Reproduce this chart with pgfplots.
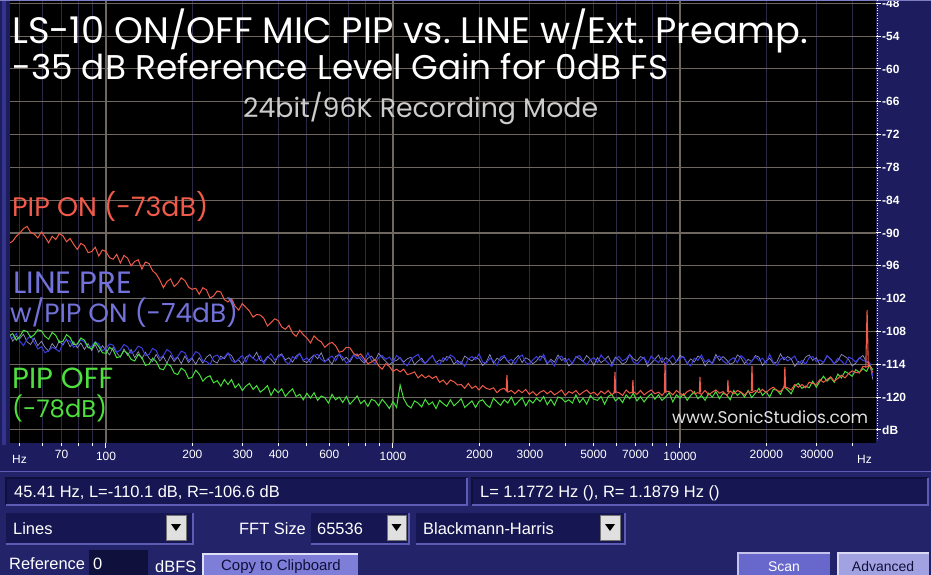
\documentclass[border=0pt]{standalone}
\usepackage{pgfplots}
\pgfplotsset{compat=1.18}
\usepackage{pgfplotstable}
\usepackage{fontspec}
\setmainfont{Liberation Sans}
\newfontfamily\comic{Poppins}
\definecolor{navy}{HTML}{1C1C5E}
\definecolor{panelbg}{HTML}{23236A}
\definecolor{boxbg}{HTML}{161652}
\definecolor{boxedge}{HTML}{5C5CB4}
\definecolor{boxdark}{HTML}{10103C}
\definecolor{stripe}{HTML}{34348A}
\definecolor{gridtan}{HTML}{6E675F}
\definecolor{gridpurple}{HTML}{2C2846}
\definecolor{tickgrey}{HTML}{B0A898}
\definecolor{redtr}{HTML}{F05A48}
\definecolor{bluetr}{HTML}{3C3CE0}
\definecolor{greentr}{HTML}{46E03A}
\definecolor{greytr}{HTML}{A8A8E0}
\definecolor{redlab}{HTML}{F05A4A}
\definecolor{bluelab}{HTML}{7272DA}
\definecolor{greenlab}{HTML}{4EE03E}
\definecolor{btncopy}{HTML}{7E7ED8}
\definecolor{btnscan}{HTML}{6868CC}
\definecolor{btnadv}{HTML}{A2A2E2}

\pgfplotstableread{
f R B G W
46.3 -91.8 -109.0 -108.7 -108.6
47.32 -91.5 -109.2 -108.4 -109.8
48.70 -90.6 -108.4 -109.6 -108.9
50.12 -90.0 -109.8 -108.9 -109.3
51.58 -89.2 -110.6 -107.8 -108.5
53.09 -88.8 -109.4 -108.0 -109.9
54.64 -89.9 -108.8 -109.1 -110.4
56.23 -90.2 -110.0 -108.6 -109.2
57.88 -90.9 -111.2 -107.7 -110.6
59.57 -89.8 -110.8 -107.9 -109.8
61.31 -90.7 -111.9 -108.9 -110.9
63.10 -91.8 -111.5 -109.4 -111.6
64.94 -90.6 -110.9 -108.2 -110.2
66.83 -91.2 -111.2 -108.7 -111.1
68.79 -90.1 -111.7 -110.0 -109.7
70.79 -90.5 -110.2 -109.8 -110.5
72.86 -91.6 -109.6 -108.6 -109.4
74.99 -91.0 -109.8 -109.1 -110.8
77.18 -92.1 -110.9 -110.4 -109.9
79.43 -93.0 -110.4 -110.3 -111.0
81.75 -91.9 -109.5 -109.2 -110.1
84.14 -92.3 -109.9 -109.6 -111.3
86.60 -93.6 -111.0 -110.9 -110.2
89.13 -93.4 -110.7 -111.2 -111.5
91.73 -92.6 -109.9 -110.0 -110.4
94.41 -94.2 -110.3 -110.8 -111.8
97.16 -93.1 -111.5 -111.9 -110.6
100 -93.4 -111.2 -112.0 -111.4
102.9 -94.5 -110.3 -110.9 -112.3
105.9 -94.8 -110.5 -111.4 -110.9
109.0 -93.9 -111.8 -112.8 -111.9
112.2 -95.5 -111.4 -112.6 -112.7
115.5 -94.1 -110.4 -111.5 -111.2
118.9 -94.6 -110.8 -112.0 -112.4
122.3 -96.0 -112.0 -113.1 -111.3
125.9 -95.2 -111.6 -113.4 -112.8
129.5 -94.9 -110.7 -112.2 -111.7
133.4 -96.6 -111.0 -112.8 -113.0
137.2 -95.3 -112.4 -114.2 -111.8
141.3 -95.6 -112.2 -114.0 -112.9
145.4 -96.9 -111.1 -112.9 -113.5
149.6 -97.5 -111.5 -113.5 -112.2
154.0 -98.6 -112.9 -114.8 -113.4
158.5 -100.0 -112.4 -115.0 -112.6
163.1 -98.9 -111.3 -113.9 -113.8
167.9 -98.4 -111.8 -114.3 -112.4
172.8 -99.8 -113.1 -115.6 -113.5
177.8 -99.2 -112.6 -115.9 -112.7
183.0 -98.2 -111.6 -114.7 -113.9
188.4 -98.7 -111.9 -115.2 -112.5
193.9 -99.9 -113.3 -116.6 -113.7
199.5 -100.3 -112.8 -116.4 -112.9
205.4 -100.1 -111.7 -115.1 -114.0
211.3 -101.2 -112.0 -115.8 -112.8
217.5 -100.0 -113.4 -117.1 -113.8
223.9 -100.4 -113.5 -116.4 -112.7
230.4 -101.9 -114.1 -116.1 -112.2
237.1 -101.5 -112.6 -117.4 -113.4
244.1 -100.6 -112.3 -117.0 -113.8
251.2 -100.8 -113.1 -118.0 -112.5
258.5 -102.2 -112.7 -116.8 -113.0
266.1 -102.6 -111.9 -117.7 -112.0
273.8 -102.0 -113.3 -116.8 -112.4
281.8 -103.4 -113.7 -118.3 -113.6
290.1 -104.1 -113.0 -117.6 -113.2
298.5 -102.9 -112.4 -118.8 -114.1
307.3 -103.6 -113.6 -118.0 -112.7
316.2 -104.3 -112.2 -117.5 -112.3
325.5 -105.4 -112.9 -118.6 -112.9
335.0 -104.9 -113.4 -117.9 -111.8
344.7 -105.0 -112.5 -119.1 -113.3
354.8 -105.6 -113.9 -118.6 -113.5
365.2 -107.0 -112.8 -117.9 -112.6
375.8 -106.4 -112.1 -119.7 -113.1
386.8 -105.7 -113.2 -118.5 -113.9
398.1 -106.0 -112.7 -119.2 -112.4
409.7 -107.2 -112.3 -118.5 -112.1
421.7 -107.6 -113.5 -119.9 -113.2
434.0 -106.9 -114.0 -119.1 -112.8
446.7 -108.3 -112.6 -118.5 -113.6
459.8 -108.9 -113.0 -119.9 -112.5
473.2 -107.8 -112.0 -119.5 -112.0
487.0 -108.6 -113.3 -120.5 -113.4
501.2 -109.2 -112.8 -119.3 -113.7
515.9 -110.1 -113.7 -120.2 -112.9
530.9 -108.8 -112.4 -119.2 -112.3
546.5 -109.5 -112.2 -120.6 -113.0
562.3 -109.9 -113.1 -119.8 -111.9
578.8 -110.9 -113.6 -120.1 -113.5
595.7 -110.3 -112.9 -121.1 -113.1
613.1 -110.0 -112.5 -119.5 -114.0
631.0 -110.6 -113.4 -120.5 -112.6
649.4 -111.8 -112.1 -120.0 -112.2
668.3 -111.6 -112.7 -121.0 -113.3
687.9 -110.9 -113.8 -119.9 -112.7
707.9 -111.0 -113.2 -121.3 -113.6
728.7 -112.0 -112.3 -120.6 -112.4
749.9 -112.5 -113.0 -119.8 -112.1
771.9 -112.1 -112.6 -121.2 -113.2
794.3 -113.0 -113.5 -120.6 -113.8
817.6 -113.9 -111.9 -121.7 -112.9
841.4 -113.6 -113.3 -120.4 -112.5
866.0 -113.1 -113.9 -120.7 -113.4
891.3 -114.3 -112.8 -121.6 -112.0
917.3 -114.9 -112.4 -120.4 -112.8
944.1 -113.9 -113.1 -121.2 -113.5
971.6 -114.4 -112.7 -122.1 -114.1
1000 -115.3 -113.6 -120.8 -113.5
1029 -114.9 -112.4 -121.9 -113.3
1059 -115.4 -112.9 -117.8 -112.8
1090 -114.9 -113.8 -120.3 -113.6
1122 -115.9 -114.3 -121.5 -113.0
1155 -115.7 -113.1 -122.0 -112.7
1189 -115.4 -112.6 -120.7 -114.1
1223 -116.5 -112.2 -121.1 -113.4
1259 -115.9 -113.4 -121.8 -112.9
1295 -116.5 -113.9 -120.4 -113.9
1334 -116.1 -113.0 -121.4 -113.1
1372 -116.6 -112.5 -120.9 -112.4
1413 -116.2 -113.7 -122.1 -113.7
1454 -117.3 -114.1 -120.6 -113.2
1496 -116.9 -112.8 -121.2 -113.5
1540 -117.7 -113.3 -121.7 -112.6
1585 -116.9 -112.3 -120.5 -112.8
1631 -117.2 -112.7 -121.6 -114.0
1679 -117.8 -113.9 -121.0 -113.3
1728 -117.7 -113.5 -120.3 -113.9
1778 -118.4 -114.4 -121.9 -112.5
1830 -117.5 -113.0 -121.3 -113.0
1884 -118.4 -112.6 -120.7 -113.4
1939 -118.0 -113.2 -121.9 -112.7
1995 -118.7 -112.1 -120.8 -113.1
2054 -117.9 -113.6 -120.5 -114.2
2113 -118.4 -113.8 -121.4 -113.6
2175 -118.6 -112.9 -121.9 -112.2
2239 -118.3 -113.4 -120.2 -113.8
2304 -119.2 -114.2 -120.9 -112.9
2371 -118.6 -112.7 -121.5 -113.3
2441 -118.4 -112.4 -120.5 -112.6
2512 -119.1 -113.5 -121.1 -113.5
2585 -118.8 -113.1 -120.0 -114.1
2661 -119.4 -113.9 -121.5 -113.0
2738 -118.7 -112.8 -120.8 -112.4
2818 -119.2 -112.3 -120.1 -113.7
2901 -118.6 -113.7 -121.6 -112.8
2985 -119.5 -114.0 -120.5 -113.2
3073 -119.0 -113.2 -121.1 -113.9
3162 -119.7 -112.6 -120.2 -113.4
3255 -119.1 -113.3 -120.8 -112.5
3350 -118.8 -112.2 -119.9 -112.7
3447 -119.4 -113.8 -121.4 -114.0
3548 -118.9 -113.4 -120.4 -113.1
3652 -119.6 -114.3 -121.5 -113.6
3758 -119.2 -112.9 -120.0 -112.3
3868 -118.7 -112.5 -120.2 -113.3
3981 -119.7 -113.6 -120.9 -112.9
4097 -119.0 -113.0 -120.5 -114.3
4217 -119.3 -113.9 -121.1 -113.8
4340 -118.8 -112.7 -119.6 -112.6
4467 -119.6 -112.4 -121.0 -113.0
4597 -119.1 -113.5 -120.2 -113.5
4732 -118.7 -114.1 -121.3 -112.4
4870 -119.4 -113.2 -119.7 -113.1
5012 -119.1 -112.8 -120.4 -114.2
5158 -119.7 -113.7 -120.6 -112.8
5309 -118.9 -112.3 -119.9 -113.7
5464 -119.4 -113.1 -121.3 -113.2
5623 -118.8 -113.8 -119.9 -112.5
5788 -119.6 -114.4 -119.5 -113.9
5957 -119.0 -112.9 -120.7 -112.7
6131 -119.2 -112.6 -120.1 -113.3
6310 -119.7 -113.4 -121.0 -114.0
6494 -118.7 -113.0 -119.6 -113.6
6683 -119.3 -112.2 -120.3 -112.2
6879 -119.0 -113.6 -119.3 -113.0
7079 -119.5 -114.0 -120.7 -113.4
7286 -118.8 -113.3 -119.9 -112.6
7499 -119.6 -112.7 -120.9 -112.9
7718 -119.1 -113.9 -120.0 -114.4
7943 -118.7 -112.5 -119.4 -113.8
8176 -119.4 -113.2 -120.4 -113.1
8414 -119.1 -113.7 -119.6 -112.3
8660 -119.7 -112.8 -120.6 -113.7
8913 -118.9 -114.2 -120.0 -112.8
9173 -119.0 -113.1 -119.2 -113.2
9441 -119.6 -112.4 -120.9 -114.1
9716 -118.8 -113.5 -119.6 -113.5
10000 -119.3 -113.0 -120.2 -112.4
10292 -119.7 -112.6 -119.4 -112.7
10593 -119.0 -113.8 -120.6 -113.9
10902 -118.7 -114.3 -119.7 -113.0
11220 -119.4 -112.9 -119.0 -113.6
11548 -119.2 -113.3 -120.3 -112.5
11885 -119.5 -112.3 -119.7 -112.9
12232 -118.8 -113.6 -120.6 -114.3
12589 -119.6 -113.1 -119.3 -113.4
12957 -119.1 -114.0 -120.0 -113.8
13335 -118.7 -112.7 -119.0 -112.2
13725 -119.3 -112.5 -120.3 -113.3
14125 -119.0 -113.4 -119.3 -112.6
14538 -119.7 -113.9 -119.6 -113.2
14962 -118.9 -113.2 -120.5 -114.0
15399 -119.4 -112.8 -118.8 -113.7
15849 -118.8 -113.7 -119.7 -112.3
16312 -119.1 -112.4 -119.1 -112.8
16788 -119.6 -113.0 -120.0 -113.9
17278 -119.0 -114.1 -118.8 -113.1
17783 -119.2 -113.5 -120.1 -113.5
18302 -118.8 -112.6 -119.3 -112.4
18836 -119.2 -113.3 -118.4 -112.7
19387 -118.6 -112.9 -119.7 -114.2
19953 -119.2 -113.8 -119.0 -113.4
20535 -118.6 -112.2 -120.0 -112.9
21135 -118.2 -113.6 -118.6 -113.8
21752 -118.8 -114.2 -118.7 -113.6
22387 -119.0 -113.1 -119.5 -112.1
23041 -118.2 -112.7 -118.1 -113.2
23714 -118.3 -113.4 -118.7 -112.6
24406 -118.7 -113.0 -119.4 -113.0
25119 -117.7 -112.5 -118.0 -114.4
25852 -118.2 -113.9 -117.5 -113.5
26607 -117.7 -113.3 -118.4 -113.9
27384 -118.3 -114.0 -118.0 -112.7
28184 -117.3 -112.8 -118.3 -112.3
29007 -117.5 -112.6 -117.1 -113.3
29854 -117.7 -113.5 -118.2 -112.8
30726 -116.8 -113.2 -117.1 -114.1
31623 -117.3 -113.7 -116.2 -113.7
32546 -116.8 -112.4 -117.1 -112.5
33497 -116.3 -113.1 -116.4 -113.0
34475 -117.1 -113.9 -117.3 -113.9
35481 -116.6 -112.9 -115.8 -113.4
36517 -116.0 -113.4 -116.5 -112.2
37584 -116.5 -114.1 -115.3 -112.6
38681 -115.7 -112.7 -115.7 -113.1
39811 -115.2 -113.0 -116.2 -114.3
40973 -115.5 -113.6 -115.0 -113.8
42170 -115.6 -112.8 -115.5 -112.9
43401 -114.4 -113.3 -114.8 -112.4
44668 -114.5 -113.5 -115.3 -113.6
45800 -114.3 -113.6 -114.2 -113.8
47000 -115.5 -116.2 -115.0 -116.8
}\spectrum

\pgfplotstableread{
f S
2480 -118.9
2495 -116.0
2510 -118.9
2510 nan
5900 -119.3
5935 -115.4
5970 -119.3
5970 nan
6820 -119.3
6855 -116.9
6890 -119.3
6890 nan
8820 -119.2
8870 -113.8
8920 -119.2
8920 nan
11680 -119.2
11740 -116.3
11800 -119.2
11800 nan
14620 -119.1
14690 -116.9
14760 -119.1
14760 nan
17720 -118.9
17820 -114.3
17920 -118.9
17920 nan
23070 -118.4
23200 -114.5
23330 -118.4
23330 nan
44400 -114.6
44870 -104.1
45300 -114.4
}\redspikes

\newcommand\fitw[2]{\resizebox{#1}{!}{\comic #2}}

\begin{document}
\begin{tikzpicture}
\path[use as bounding box] (0bp,0bp) rectangle (931bp,-575bp);
\clip (0bp,0bp) rectangle (931bp,-575bp);
% backgrounds
\fill[panelbg] (0bp,0bp) rectangle (931bp,-575bp);
\fill[navy] (0bp,0bp) rectangle (931bp,-471bp);
\fill[stripe] (2bp,0bp) rectangle (6bp,-445bp);
\draw[boxedge, line width=1bp] (0bp,-471.5bp) -- (931bp,-471.5bp);

\begin{axis}[
  at={(10bp,-443bp)}, anchor=south west,
  scale only axis, width=866bp, height=443bp,
  xmode=log, xmin=46.3, xmax=48200,
  ymin=-128.4, ymax=-47.4,
  axis background/.style={fill=black},
  axis line style={draw=none},
  unbounded coords=jump,
  xtick={100,1000,10000},
  xticklabels={100,1000,10000},
  minor xtick={50,60,70,80,90,200,300,400,500,600,700,800,900,2000,3000,4000,5000,6000,7000,8000,9000,20000,30000,40000},
  extra x ticks={70,200,300,400,600,2000,3000,5000,7000,20000,30000},
  extra x tick labels={70,200,300,400,600,2000,3000,5000,7000,20000,30000},
  extra x tick style={grid=none, major tick length=3bp, tick label style={text=tickgrey}},
  xmajorgrids, xminorgrids, ymajorgrids,
  major grid style={draw=gridtan, line width=1.1bp},
  minor grid style={draw=gridpurple, line width=1.1bp},
  xtick pos=bottom, ytick pos=right, yticklabel pos=right,
  tick align=outside,
  major tick length=5bp, minor tick length=3bp,
  tick style={draw=white, line width=1bp},
  ytick={-126,-120,...,-48},
  yticklabels={dB,-120,-114,-108,-102,-96,-90,-84,-78,-72,-66,-60,-54,-48},
  tick label style={font=\fontsize{12}{12}\selectfont, inner sep=0pt},
  xticklabel style={text=white, yshift=-4bp},
  yticklabel style={text=white, xshift=1bp, font=\fontsize{12}{12}\selectfont\bfseries},
]
\addplot[greytr, line width=0.7bp, opacity=0.85] table[x=f, y=W] {\spectrum};
\addplot[bluetr, line width=1bp] table[x=f, y=B] {\spectrum};
\addplot[greentr, line width=1bp] table[x=f, y=G] {\spectrum};
\addplot[redtr, line width=1bp] table[x=f, y=R] {\spectrum};
\addplot[redtr, line width=1.1bp] table[x=f, y=S] {\redspikes};
\end{axis}

% top border and right dotted line
\draw[boxedge!80!white, line width=1.2bp] (0bp,-0.6bp) -- (931bp,-0.6bp);
\draw[white, line width=1bp, dash pattern=on 1bp off 1.5bp] (877bp,0bp) -- (877bp,-440bp);

% Hz labels
\node[anchor=west, inner sep=0pt, text=white, font=\fontsize{12}{12}\selectfont] at (12bp,-459bp) {Hz};
\node[anchor=west, inner sep=0pt, text=white, font=\fontsize{12}{12}\selectfont] at (857bp,-459bp) {Hz};

% titles
\node[anchor=base west, inner sep=0pt, text=white] at (12bp,-43bp) {\fitw{796bp}{LS-10 ON/OFF MIC PIP vs.\ LINE w/Ext.\ Preamp.}};
\node[anchor=base west, inner sep=0pt, text=white] at (12bp,-79bp) {\fitw{656bp}{-35 dB Reference Level Gain for 0dB FS}};
\node[anchor=base west, inner sep=0pt, text=black!20] at (243bp,-117bp) {\fitw{355bp}{24bit/96K Recording Mode}};

% curve labels
\node[anchor=base west, inner sep=0pt, text=redlab] at (12bp,-216bp) {\fitw{196bp}{PIP ON (-73dB)}};
\node[anchor=base west, inner sep=0pt, text=bluelab] at (13bp,-293bp) {\fitw{119bp}{LINE PRE}};
\node[anchor=base west, inner sep=0pt, text=bluelab] at (10bp,-322bp) {\fitw{228bp}{w/PIP ON (-74dB)}};
\node[anchor=base west, inner sep=0pt, text=greenlab] at (12bp,-388bp) {\fitw{101bp}{PIP OFF}};
\node[anchor=base west, inner sep=0pt, text=greenlab] at (12bp,-417bp) {\fitw{95bp}{(-78dB)}};
\node[anchor=base west, inner sep=0pt, text=black!12] at (672bp,-423bp) {\fitw{196bp}{www.SonicStudios.com}};

% bottom UI
\tikzset{uitext/.style={inner sep=0pt, anchor=west, text=white, font=\fontsize{16.5}{16.5}\selectfont}}
\fill[boxbg] (6bp,-478bp) rectangle (467bp,-505bp);
\draw[boxdark, line width=1.2bp] (6bp,-505bp) -- (6bp,-478bp) -- (467bp,-478bp);
\draw[boxedge, line width=1.2bp] (6bp,-505bp) -- (467bp,-505bp) -- (467bp,-478bp);
\node[uitext] at (14bp,-493bp) {45.41 Hz, L=-110.1 dB, R=-106.6 dB};
\fill[boxbg] (472bp,-478bp) rectangle (928bp,-505bp);
\draw[boxdark, line width=1.2bp] (472bp,-505bp) -- (472bp,-478bp) -- (928bp,-478bp);
\draw[boxedge, line width=1.2bp] (472bp,-505bp) -- (928bp,-505bp) -- (928bp,-478bp);
\node[uitext] at (480bp,-493bp) {L= 1.1772 Hz (), R= 1.1879 Hz ()};

\fill[boxbg] (6bp,-513bp) rectangle (193bp,-544bp);
\draw[boxedge, line width=1.2bp] (6bp,-544bp) -- (193bp,-544bp) -- (193bp,-513bp);
\node[uitext] at (13bp,-529bp) {Lines};
\filldraw[fill=black!12, draw=black!55, line width=1bp] (166bp,-515bp) rectangle (186bp,-540bp);
\fill[black] (171bp,-524bp) -- (181bp,-524bp) -- (176bp,-531bp) -- cycle;

\node[uitext] at (239bp,-529bp) {FFT Size};
\fill[boxbg] (311bp,-513bp) rectangle (409bp,-544bp);
\draw[boxedge, line width=1.2bp] (311bp,-544bp) -- (409bp,-544bp) -- (409bp,-513bp);
\node[uitext] at (317bp,-529bp) {65536};
\filldraw[fill=black!12, draw=black!55, line width=1bp] (387bp,-515bp) rectangle (406bp,-540bp);
\fill[black] (391.5bp,-524bp) -- (401.5bp,-524bp) -- (396.5bp,-531bp) -- cycle;

\fill[boxbg] (416bp,-513bp) rectangle (625bp,-544bp);
\draw[boxedge, line width=1.2bp] (416bp,-544bp) -- (625bp,-544bp) -- (625bp,-513bp);
\node[uitext] at (423bp,-529bp) {Blackmann-Harris};
\filldraw[fill=black!12, draw=black!55, line width=1bp] (600bp,-515bp) rectangle (620bp,-540bp);
\fill[black] (605bp,-524bp) -- (615bp,-524bp) -- (610bp,-531bp) -- cycle;

\node[uitext] at (9bp,-564bp) {Reference};
\fill[boxdark] (89bp,-550bp) rectangle (148bp,-576bp);
\node[uitext] at (93bp,-564bp) {0};
\node[uitext] at (155bp,-567bp) {dBFS};
\fill[btncopy] (203bp,-554bp) rectangle (358bp,-578bp);
\draw[white!75!btncopy, line width=1.5bp] (203bp,-578bp) -- (203bp,-554bp) -- (358bp,-554bp);
\node[inner sep=0pt, text=boxdark, font=\fontsize{15}{15}\selectfont] at (281bp,-567bp) {Copy to Clipboard};
\fill[btnscan] (738bp,-553bp) rectangle (830bp,-578bp);
\draw[white!60!btnscan, line width=1.5bp] (738bp,-578bp) -- (738bp,-553bp) -- (830bp,-553bp);
\node[inner sep=0pt, text=white, font=\fontsize{14}{14}\selectfont] at (784bp,-567bp) {Scan};
\fill[btnadv] (838bp,-553bp) rectangle (929bp,-578bp);
\draw[white!60!btnadv, line width=1.5bp] (838bp,-578bp) -- (838bp,-553bp) -- (929bp,-553bp);
\node[inner sep=0pt, text=boxdark, font=\fontsize{14}{14}\selectfont] at (883bp,-567bp) {Advanced};
\end{tikzpicture}
\end{document}
